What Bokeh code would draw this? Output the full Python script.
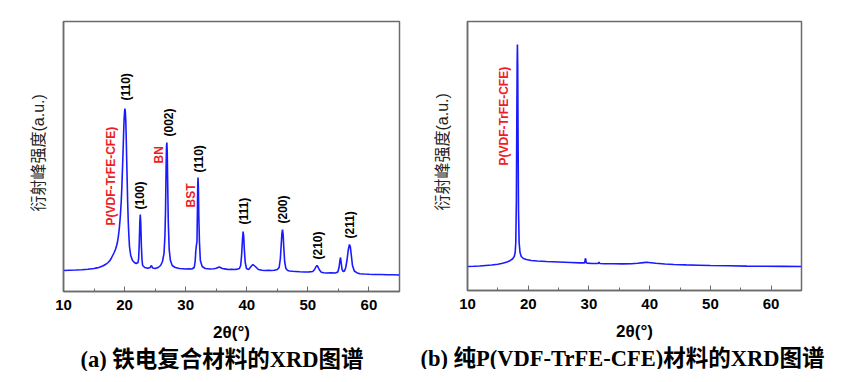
import math
from bokeh.plotting import figure
from bokeh.layouts import row
from bokeh.models import Range1d, SingleIntervalTicker, FixedTicker, Title, ColumnDataSource
from bokeh.embed import file_html
from bokeh.resources import INLINE
from bokeh.core.properties import value

# ---------------- data: panel (a) composite ----------------
a_two_theta = [10.0, 11.0, 12.0, 13.0, 14.0, 15.0, 15.5, 16.0, 16.5, 17.0, 17.3, 17.6, 17.8, 18.05, 18.3, 18.5,
               18.7, 18.85, 19.0, 19.15, 19.3, 19.45, 19.55, 19.65, 19.75, 19.85, 19.92, 20.0, 20.05, 20.12, 20.2,
               20.28, 20.35, 20.45, 20.5, 20.6, 20.65, 20.8, 21.0, 21.3, 21.6, 21.9, 22.2, 22.3, 22.4, 22.5, 22.57,
               22.65, 22.75, 22.85, 22.95, 23.3, 23.8, 24.2, 24.4, 24.6, 25.0, 25.5, 25.9, 26.2, 26.45, 26.6, 26.7,
               26.8, 26.86, 26.92, 26.98, 27.05, 27.15, 27.3, 27.5, 27.8, 28.3, 29.0, 29.6, 30.0, 30.5, 31.0, 31.4,
               31.55, 31.65, 31.75, 31.85, 31.92, 31.97, 32.02, 32.08, 32.15, 32.25, 32.4, 32.7, 33.2, 34.0, 34.6,
               35.0, 35.5, 36.0, 36.6, 37.0, 37.5, 38.0, 38.5, 38.8, 39.0, 39.15, 39.3, 39.4, 39.5, 39.6, 39.75,
               39.95, 40.3, 40.7, 41.0, 41.4, 41.9, 42.5, 43.0, 43.6, 44.0, 44.5, 45.0, 45.3, 45.5, 45.65, 45.75,
               45.85, 45.95, 46.05, 46.2, 46.4, 46.7, 47.0, 47.5, 48.0, 48.7, 49.5, 50.2, 50.8, 51.1, 51.3, 51.5,
               51.7, 51.9, 52.2, 52.6, 53.0, 53.8, 54.5, 54.9, 55.1, 55.25, 55.35, 55.45, 55.6, 55.8, 56.0, 56.2,
               56.4, 56.6, 56.8, 56.95, 57.1, 57.3, 57.6, 58.0, 58.5, 59.2, 60.0, 61.0, 62.0, 63.0, 64.0, 65.0]
a_intensity = [21.0, 21.3, 21.5, 21.8, 22.3, 23.0, 23.6, 24.5, 25.8, 27.5, 29.0, 31.0, 33.0, 36.0, 39.0, 42.0,
               46.0, 50.0, 56.0, 64.0, 75.0, 90.0, 104.0, 122.0, 140.0, 160.0, 172.0, 180.0, 183.0, 180.0, 170.0,
               150.0, 130.0, 104.0, 90.0, 70.0, 62.0, 45.0, 36.0, 31.0, 29.0, 28.0, 29.0, 33.0, 48.0, 70.0, 77.0,
               68.0, 45.0, 32.0, 26.0, 24.0, 23.2, 24.0, 26.0, 23.5, 23.0, 24.0, 26.0, 30.0, 38.0, 55.0, 80.0,
               125.0, 145.0, 149.0, 140.0, 110.0, 70.0, 42.0, 31.0, 26.0, 24.0, 23.0, 22.8, 22.5, 22.7, 22.5, 24.0,
               30.0, 40.0, 46.0, 50.0, 80.0, 105.0, 114.0, 104.0, 75.0, 50.0, 31.0, 25.0, 23.0, 22.5, 22.8,
               23.2, 24.5, 23.0, 22.4, 22.0, 22.3, 22.0, 22.4, 23.0, 26.0, 36.0, 52.0, 60.0, 55.0, 42.0, 29.0,
               23.0, 22.0, 25.0, 27.0, 25.0, 22.0, 21.3, 21.0, 21.3, 21.0, 21.2, 22.0, 24.0, 33.0, 48.0, 58.0,
               62.0, 57.0, 45.0, 30.0, 23.0, 21.0, 20.5, 20.2, 20.0, 19.7, 19.5, 19.6, 20.0, 22.0, 24.5, 26.0,
               24.0, 21.5, 19.3, 18.8, 18.5, 18.7, 18.5, 19.5, 24.0, 31.0, 34.0, 29.0, 22.0, 20.0, 20.5, 24.0,
               31.0, 41.0, 47.0, 45.0, 37.0, 26.0, 20.5, 18.8, 17.8, 17.5, 17.2, 17.0, 17.0, 16.8, 16.7, 16.5]

a_label_x = [17.8, 20.15, 22.5, 25.7, 27.27, 30.8, 32.2, 39.56, 45.85, 51.7, 56.9]
a_label_y = [66, 191, 82, 128, 155, 84, 119, 67, 68, 32, 53]
a_label_text = ["P(VDF-TrFE-CFE)", "(110)", "(100)", "BN", "(002)", "BST", "(110)", "(111)", "(200)", "(210)", "(211)"]
a_label_color = ["#ee1c24", "black", "black", "#ee1c24", "black", "#ee1c24", "black", "black", "black", "black", "black"]

# ---------------- data: panel (b) pure P(VDF-TrFE-CFE) ----------------
b_two_theta = [10.0, 11.0, 12.0, 13.0, 14.0, 15.0, 15.8, 16.5, 17.0, 17.4, 17.7, 17.85, 17.95, 18.05, 18.12, 18.18,
               18.22, 18.27, 18.33, 18.4, 18.5, 18.65, 18.85, 19.2, 19.7, 20.5, 21.5, 23.0, 25.0, 27.0, 28.5, 29.3,
               29.4, 29.47, 29.55, 29.7, 30.5, 31.5, 31.65, 31.8, 32.5, 34.0, 35.5, 37.0, 38.0, 39.0, 39.5, 40.2,
               41.0, 42.5, 44.0, 46.0, 48.0, 50.0, 53.0, 56.0, 59.0, 62.0, 65.0]
b_intensity = [24.0, 24.2, 24.5, 25.0, 25.5, 26.3, 27.2, 28.5, 29.8, 31.5, 34.0, 38.0, 48.0, 90.0, 170.0, 230.0,
               246.0, 225.0, 150.0, 80.0, 48.0, 38.0, 34.0, 32.0, 31.0, 30.0, 29.5, 29.0, 28.5, 28.0, 27.6, 27.6,
               32.0, 31.5, 27.8, 27.4, 27.0, 27.0, 28.2, 27.0, 26.8, 26.7, 26.6, 26.8, 27.2, 27.9, 28.2, 27.8,
               27.2, 26.5, 26.0, 25.6, 25.3, 25.0, 24.7, 24.4, 24.2, 24.1, 24.0]

b_label_x = [16.0]
b_label_y = [125]
b_label_text = ["P(VDF-TrFE-CFE)"]
b_label_color = ["#ee1c24"]

x_ticks = [10, 20, 30, 40, 50, 60]

LINE = "#1a1aff"
FRAME = "#6b6b6b"
SANS = "Liberation Sans"
CAPTION_FONT = "Liberation Serif, Noto Sans CJK SC"


def make_panel(xs, ys, lx, ly, lt, lc, caption, ymax, frame_h, left_b, right_b, top_b, frame_w,
               cap_offset, ylab_offset):
    p = figure(frame_width=frame_w, frame_height=frame_h, output_backend="svg", toolbar_location=None,
               x_range=Range1d(10, 65), y_range=Range1d(0, ymax),
               min_border_left=left_b, min_border_right=right_b, min_border_top=top_b, min_border_bottom=10)
    p.background_fill_color = "white"
    p.border_fill_color = "white"
    p.outline_line_color = FRAME
    p.outline_line_width = 1.5
    p.grid.visible = False

    p.line(xs, ys, line_color=LINE, line_width=1.6)

    src = ColumnDataSource(dict(x=lx, y=ly, t=lt, c=lc))
    p.text(x="x", y="y", text="t", text_color="c", source=src, angle=math.pi / 2,
           text_align="left", text_baseline="middle", text_font=value(SANS),
           text_font_style="bold", text_font_size="12px")

    xa = p.xaxis[0]
    xa.ticker = SingleIntervalTicker(interval=10, num_minor_ticks=2)
    xa.major_label_overrides = {t: str(t) for t in x_ticks}
    xa.axis_line_color = FRAME
    xa.axis_line_width = 1.5
    xa.major_tick_in = 5
    xa.major_tick_out = 0
    xa.minor_tick_in = 3
    xa.minor_tick_out = 0
    xa.major_tick_line_color = FRAME
    xa.minor_tick_line_color = FRAME
    xa.major_label_text_font = SANS
    xa.major_label_text_font_style = "bold"
    xa.major_label_text_font_size = "15px"
    xa.major_label_text_color = "black"
    xa.major_label_standoff = 8
    xa.axis_label = "2θ(°)"
    xa.axis_label_text_font = SANS
    xa.axis_label_text_font_style = "bold"
    xa.axis_label_text_font_size = "17px"
    xa.axis_label_text_color = "black"
    xa.axis_label_standoff = 10

    ya = p.yaxis[0]
    ya.ticker = FixedTicker(ticks=[])
    ya.axis_line_color = FRAME
    ya.axis_line_width = 1.5

    p.add_layout(Title(text="衍射峰强度(a.u.)", align="left", offset=ylab_offset,
                       text_font="Liberation Sans, Noto Sans CJK SC", text_font_size="16px",
                       text_font_style="normal", text_color="#222222", standoff=33), "left")

    p.add_layout(Title(text=caption, align="left", text_font=CAPTION_FONT, text_font_size="22.5px",
                       text_font_style="bold", text_color="black", standoff=0, offset=cap_offset), "below")
    return p


pa = make_panel(a_two_theta, a_intensity, a_label_x, a_label_y, a_label_text, a_label_color,
                "(a) 铁电复合材料的XRD图谱", 270, 270, 63, 13, 21, 336, 17, 80)
pb = make_panel(b_two_theta, b_intensity, b_label_x, b_label_y, b_label_text, b_label_color,
                "(b) 纯P(VDF-TrFE-CFE)材料的XRD图谱", 269, 269, 55, 39, 20, 334, -47, 80)

layout = row(pa, pb)
open("out.html", "w").write(file_html(layout, INLINE))
